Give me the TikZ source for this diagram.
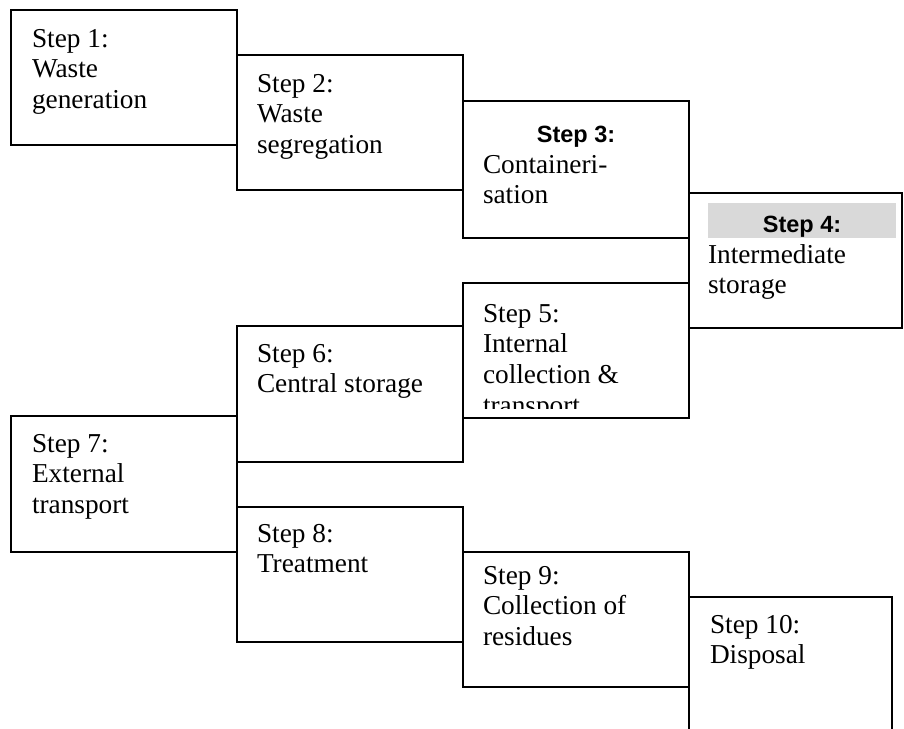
\documentclass[tikz,border=0pt]{standalone}
\usepackage{fontspec}
\setmainfont{Liberation Serif}
\newfontfamily\arialfam{Liberation Sans}
\begin{document}
\begin{tikzpicture}[x=1pt,y=-1pt,
  box/.style={draw=black, line width=1.4pt, fill=white, inner sep=0pt, outer sep=0pt, anchor=north west},
  txt/.style={anchor=base west, inner sep=0pt, outer sep=0pt, font=\fontsize{27.3}{30.8}\selectfont},
  hdr/.style={anchor=base, inner sep=0pt, outer sep=0pt, font=\arialfam\bfseries\fontsize{23.5}{28}\selectfont},
  hilite/.style={fill=black!15, draw=none, inner sep=0pt, outer sep=0pt, anchor=north west}]
\useasboundingbox (0,0) rectangle (904,728);
\clip (0,0) rectangle (904,728);
% boxes
\node[box, minimum width=226pt, minimum height=135pt] (b1) at (11,10) {};
\node[box, minimum width=226pt, minimum height=135pt] (b2) at (237,55) {};
\node[box, minimum width=226pt, minimum height=137pt] (b3) at (463,101) {};
\node[box, minimum width=213pt, minimum height=135pt] (b4) at (689,193) {};
\node[box, minimum width=226pt, minimum height=135pt] (b5) at (463,283) {};
\node[box, minimum width=226pt, minimum height=136pt] (b6) at (237,326) {};
\node[box, minimum width=226pt, minimum height=136pt] (b7) at (11,416) {};
\node[box, minimum width=226pt, minimum height=135pt] (b8) at (237,507) {};
\node[box, minimum width=226pt, minimum height=135pt] (b9) at (463,552) {};
\node[box, minimum width=203pt, minimum height=150pt] (b10) at (689,597) {};
% texts
\node[txt] (t1) at (32,47) {\vtop{\hbox{Step 1:}\hbox{Waste}\hbox{generation}}};
\node[txt] (t2) at (257,92) {\vtop{\hbox{Step 2:}\hbox{Waste}\hbox{segregation}}};
\node[hdr] (h3) at (576,142) {Step 3:};
\node[txt] (t3) at (483,173) {\vtop{\hbox{Containeri-}\hbox{sation}}};
\node[hilite, minimum width=188pt, minimum height=35pt] (g4) at (708,203) {};
\node[hdr] (h4) at (802,232) {Step 4:};
\node[txt] (t4) at (708,263) {\vtop{\hbox{Intermediate}\hbox{storage}}};
\begin{scope}
\clip (463,283) rectangle (689,408);
\node[txt] (t5) at (483,322) {\vtop{\hbox{Step 5:}\hbox{Internal}\hbox{collection \&}\hbox{transport}}};
\end{scope}
\node[txt] (t6) at (257,362) {\vtop{\hbox{Step 6:}\hbox{Central storage}}};
\node[txt] (t7) at (32,452) {\vtop{\hbox{Step 7:}\hbox{External}\hbox{transport}}};
\node[txt] (t8) at (257,542) {\vtop{\hbox{Step 8:}\hbox{Treatment}}};
\node[txt] (t9) at (483,584) {\vtop{\hbox{Step 9:}\hbox{Collection of}\hbox{residues}}};
\node[txt] (t10) at (710,633) {\vtop{\hbox{Step 10:}\hbox{Disposal}}};
\end{tikzpicture}
\end{document}
